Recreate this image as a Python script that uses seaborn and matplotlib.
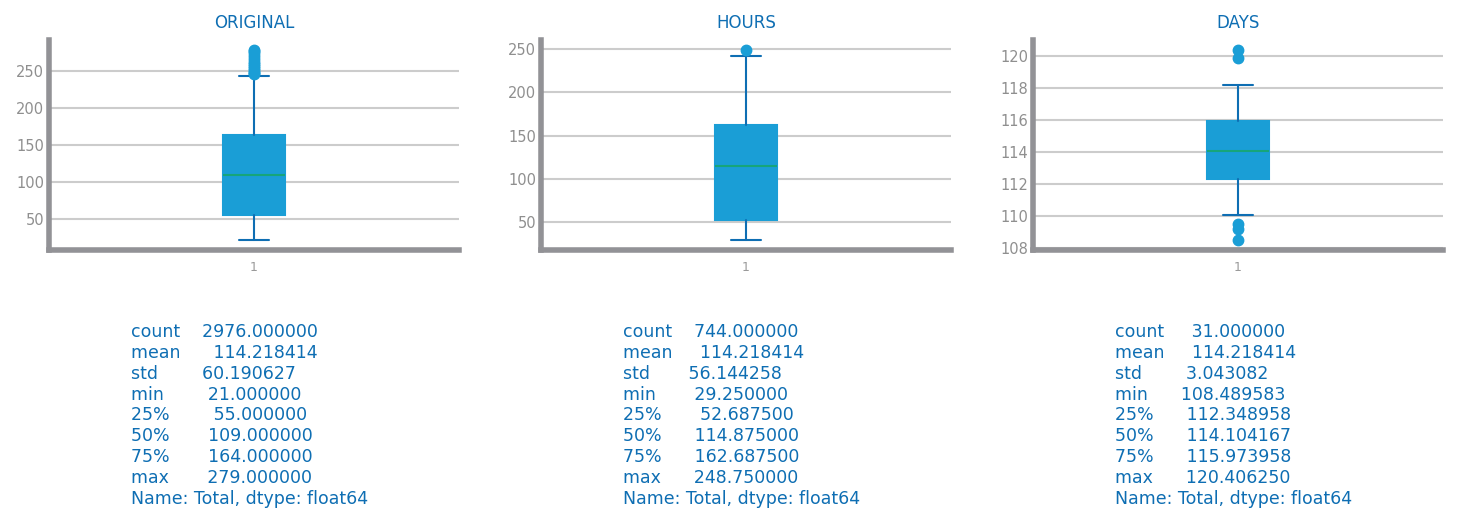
import matplotlib
matplotlib.use("Agg")
import matplotlib.pyplot as plt
import seaborn as sns
import pandas as pd

# summary stats per granularity (describe() of Total)
stat_names = ["count", "mean", "std", "min", "25%", "50%", "75%", "max"]
original_stats = [2976.0, 114.218414, 60.190627, 21.0, 55.0, 109.0, 164.0, 279.0]
hours_stats = [744.0, 114.218414, 56.144258, 29.25, 52.6875, 114.875, 162.6875, 248.75]
days_stats = [31.0, 114.218414, 3.043082, 108.489583, 112.348958, 114.104167, 115.973958, 120.40625]

original_whis = [21.0, 244.0]
hours_whis = [29.25, 242.0]
days_whis = [110.1, 118.2]
original_fliers = [246, 247, 249, 251, 254, 257, 260, 263, 266, 270, 274, 277, 279]
hours_fliers = [248.75]
days_fliers = [108.49, 109.2, 109.5, 119.9, 120.41]

titles = ["ORIGINAL", "HOURS", "DAYS"]

BLUE = "#0e6eb3"
FILL = "#1a9ed6"
GREEN = "#17a57a"
GREY = "#929296"

sns.set_style("white")
plt.rcParams["font.family"] = ["DejaVu Sans"]

fig = plt.figure(figsize=(14.59, 5.22), dpi=100)

panels = [
    (original_stats, original_whis, original_fliers),
    (hours_stats, hours_whis, hours_fliers),
    (days_stats, days_whis, days_fliers),
]

for i, (st, wh, fl) in enumerate(panels):
    left = 0.0336 + i * 0.3372
    ax = fig.add_axes([left, 0.521, 0.281, 0.402])
    s = dict(zip(stat_names, st))
    box = {"med": s["50%"], "q1": s["25%"], "q3": s["75%"],
           "whislo": wh[0], "whishi": wh[1], "fliers": fl, "label": "1"}
    ax.bxp([box], positions=[1], widths=0.15, patch_artist=True,
           boxprops=dict(facecolor=FILL, edgecolor=FILL, linewidth=1.5),
           whiskerprops=dict(color=BLUE, linewidth=1.5),
           capprops=dict(color=BLUE, linewidth=1.5),
           medianprops=dict(color=GREEN, linewidth=1.5),
           flierprops=dict(marker="o", markerfacecolor=FILL, markeredgecolor=FILL, markersize=7.5))
    ax.set_axisbelow(True)
    ax.yaxis.grid(True, color="#cccccc", linewidth=1.5)
    sns.despine(ax=ax)
    for sp in ["left", "bottom"]:
        ax.spines[sp].set_color(GREY)
        ax.spines[sp].set_linewidth(4)
    ax.tick_params(axis="y", length=0, labelsize=10.5, labelcolor="#8f8f8f")
    ax.tick_params(axis="x", length=3, color="#aaaaaa", labelsize=9, pad=5, labelcolor="#9a9a9a")
    ax.set_title(titles[i], color=BLUE, fontsize=12, pad=9)

    # describe() printout under each box
    txt = str(pd.Series(st, index=stat_names, name="Total"))
    fig.text(left + 0.0562, 0.381, txt, color=BLUE, fontsize=12.5, va="top",
             ha="left", linespacing=1.2)

fig.savefig("out.png", dpi=100)
